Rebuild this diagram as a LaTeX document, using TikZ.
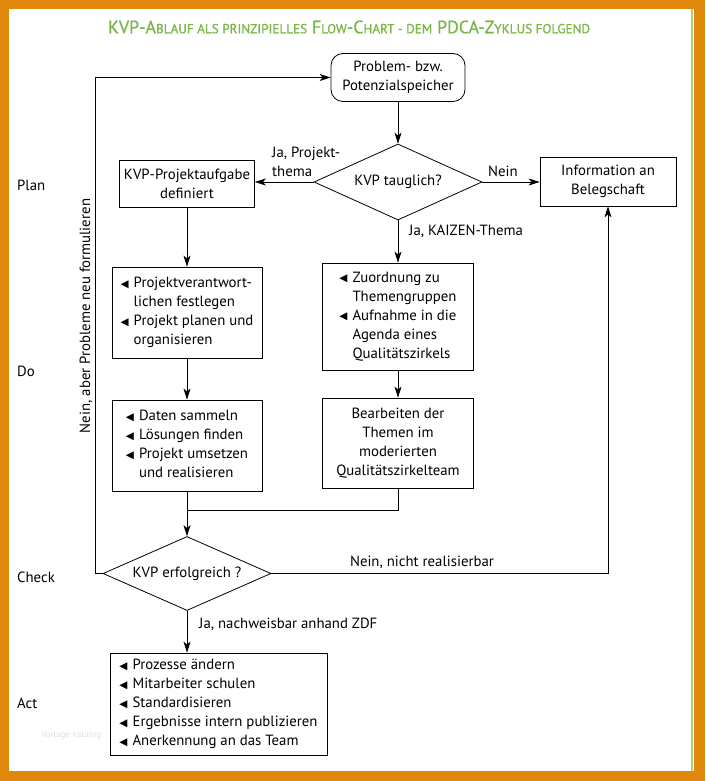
\documentclass[tikz,border=0pt]{standalone}
\usepackage{fontspec}
\usepackage{graphicx}
\setmainfont{PT Sans}
\newfontfamily\symfont{DejaVu Sans}
\newfontfamily\titlefont{PT Sans}[FakeBold=0.8]
\usetikzlibrary{arrows.meta,shapes.geometric}
\definecolor{frameorange}{RGB}{224,136,12}
\definecolor{titlegreen}{RGB}{122,182,72}
\definecolor{edgegreen}{RGB}{176,204,128}
\newcommand\bul{\raisebox{0.5pt}{\symfont\fontsize{10.5}{10}\selectfont ◀}}
\newcommand\txt{\fontsize{14.8}{19}\selectfont}
\newcommand\sct[1]{{\fontsize{12.5}{12}\selectfont #1}}
\tikzset{
  every node/.style={font=\txt},
  arr/.style={draw, line width=0.8pt, -{Stealth[length=11pt,width=7pt,inset=3pt]}},
  ln/.style={draw, line width=0.8pt},
  boxnode/.style={draw, line width=0.8pt, rectangle, inner sep=0pt, align=center},
  probbox/.style={boxnode, rounded corners=12pt},
  dia/.style={draw, line width=0.8pt, diamond, inner sep=0pt},
  lbl/.style={inner sep=1pt},
}
\begin{document}
\begin{tikzpicture}[x=1pt,y=-1pt]
\useasboundingbox (0,0) rectangle (705,781);
\fill[frameorange] (0,0) rectangle (705,781);
\fill[white] (9,9) rectangle (694,771);
\draw[edgegreen, line width=2pt] (692,9) -- (692,771);

\node[titlegreen, inner sep=0pt] (title) at (349,27)
  {\resizebox{482pt}{!}{\titlefont\fontsize{17}{17}\selectfont KVP-A\sct{BLAUF ALS PRINZIPIELLES} F\sct{LOW}-C\sct{HART - DEM} PDCA-Z\sct{YKLUS FOLGEND}}};

% phase labels
\node[lbl, anchor=west] (plan) at (16,185) {Plan};
\node[lbl, anchor=west] (do) at (16,371) {Do};
\node[lbl, anchor=west] (check) at (16,577) {Check};
\node[lbl, anchor=west] (act) at (16,703) {Act};

% main nodes
\node[probbox, minimum width=134, minimum height=48] (prob) at (398,77.5) {Problem- bzw.\\Potenzialspeicher};
\node[dia, minimum width=168, minimum height=76, label=center:{KVP tauglich?}] (d1) at (398,182) {};
\node[boxnode, minimum width=135, minimum height=47] (b1) at (187,183.5) {KVP-Projektaufgabe\\definiert};
\node[boxnode, minimum width=136, minimum height=49] (b2) at (608,181.5) {Information an\\Belegschaft};

\node[boxnode, minimum width=150, minimum height=91] (b5) at (187,312.5)
  {\begin{tabular}{@{}l@{\hspace{5pt}}l@{}}\bul&Projektverantwort-\\&lichen festlegen\\\bul&Projekt planen und\\&organisieren\end{tabular}};
\node[boxnode, minimum width=150, minimum height=91] (b6) at (187,445.5)
  {\begin{tabular}{@{}l@{\hspace{5pt}}l@{}}\bul&Daten sammeln\\\bul&Lösungen finden\\\bul&Projekt umsetzen\\&und realisieren\end{tabular}};
\node[boxnode, minimum width=151, minimum height=107] (b3) at (398,316.5)
  {\begin{tabular}{@{}l@{\hspace{5pt}}l@{}}\bul&Zuordnung zu\\&Themengruppen\\\bul&Aufnahme in die\\&Agenda eines\\&Qualitätszirkels\end{tabular}};
\node[boxnode, minimum width=151, minimum height=90] (b4) at (398,443)
  {Bearbeiten der\\Themen im\\moderierten\\Qualitätszirkelteam};

\node[dia, minimum width=168, minimum height=74, label=center:{KVP erfolgreich ?}] (d2) at (187,573.5) {};

\node[boxnode, minimum width=217, minimum height=102] (b7) at (218.5,704)
  {\begin{tabular}{@{}l@{\hspace{5pt}}l@{}}\bul&Prozesse ändern\\\bul&Mitarbeiter schulen\\\bul&Standardisieren\\\bul&Ergebnisse intern publizieren\\\bul&Anerkennung an das Team\end{tabular}};

% connector labels
\node[lbl, anchor=west, align=left] (lja) at (271,161.5) {Ja, Projekt-\\thema};
\node[lbl] (lnein) at (503,171) {Nein};
\node[lbl, anchor=west] (lkaizen) at (408,231) {Ja, KAIZEN-Thema};
\node[lbl] (lnicht) at (422,562) {Nein, nicht realisierbar};
\node[lbl, anchor=west] (lzdf) at (198,624) {Ja, nachweisbar anhand ZDF};
\node[lbl, rotate=90] (lloop) at (86,316) {Nein, aber Probleme neu formulieren};
\node[lbl, anchor=west, text=black!12, font=\fontsize{9}{9}\selectfont] (wm) at (40,735) {Vorlage katalog};

% connectors
\coordinate (merge) at (187,510);
\coordinate (loopc) at (95,573.5);
\draw[arr] (prob.south) -- (d1.north);
\draw[arr] (d1.west) -- (d1.west -| b1.east);
\draw[arr] (d1.east) -- (d1.east -| b2.west);
\draw[arr] (d1.south) -- (d1.south |- b3.north);
\draw[arr] (b1.south) -- (b5.north);
\draw[arr] (b5.south) -- (b6.north);
\draw[arr] (b3.south) -- (b4.north);
\draw[ln] (b4.south) |- (merge);
\draw[arr] (b6.south) -- (d2.north);
\draw[arr] (d2.south) -- (d2.south |- b7.north);
\draw[arr] (d2.east) -| (b2.south);
\draw[arr] (d2.west) -- (loopc) |- (prob.west);
\end{tikzpicture}
\end{document}
